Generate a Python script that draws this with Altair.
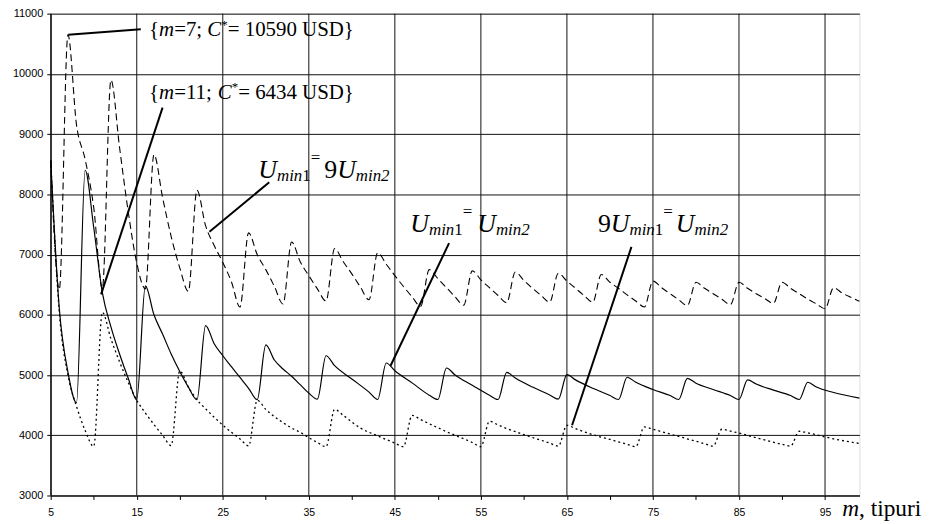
import altair as alt
import pandas as pd

# ---------------- data ----------------
# curve U_min1 = U_min2 (solid)
SOLID_M = [5, 6, 7, 8, 9, 10, 11, 12, 13, 14, 15,
           16, 17, 18, 19, 20, 21, 22,
           23, 24, 25, 26, 27, 28, 29,
           30, 31, 32, 33, 34, 35, 36,
           37, 38, 40, 42, 43,
           44, 45, 47, 49, 50,
           51, 52, 54, 56, 57,
           58, 59, 61, 63, 64,
           65, 66, 68, 70, 71,
           72, 73, 75, 77, 78,
           79, 80, 82, 84, 85,
           86, 87, 89, 91, 92,
           93, 94, 96, 99]
SOLID_V = [8560, 6100, 5050, 4540, 8400, 7450, 6370, 5800, 5350, 4950, 4590,
           6480, 6000, 5680, 5350, 5060, 4800, 4590,
           5820, 5520, 5320, 5140, 4960, 4780, 4590,
           5500, 5250, 5100, 4980, 4840, 4700, 4600,
           5320, 5155, 4935, 4716, 4594,
           5200, 5070, 4870, 4665, 4594,
           5117, 5000, 4830, 4665, 4594,
           5045, 4950, 4800, 4670, 4600,
           5006, 4920, 4780, 4660, 4594,
           4963, 4880, 4760, 4660, 4594,
           4945, 4865, 4760, 4660, 4594,
           4920, 4850, 4750, 4660, 4594,
           4880, 4800, 4710, 4617]

# curve U_min1 = 9 U_min2 (dashed), one value per m = 5..99
DASH_M = list(range(5, 100))
DASH_V = [8560, 6420, 10650, 9150, 8580, 7780, 6430,          # 5-11
          9900, 8780, 7720, 6860, 6430,                       # 12-16
          8660, 7950, 7300, 6780, 6390,                       # 17-21
          8070, 7480, 7150, 6870, 6550, 6130,                 # 22-27
          7360, 7000, 6750, 6470, 6180,                       # 28-32
          7210, 6880, 6650, 6430, 6230,                       # 33-37
          7100, 6880, 6680, 6460, 6250,                       # 38-42
          7030, 6840, 6650, 6470, 6300, 6140,                 # 43-48
          6750, 6600, 6450, 6300, 6160,                       # 49-53
          6730, 6580, 6450, 6320, 6200,                       # 54-58
          6710, 6570, 6440, 6320, 6210,                       # 59-63
          6690, 6560, 6440, 6320, 6210,                       # 64-68
          6670, 6540, 6440, 6330, 6230, 6130,                 # 69-74
          6560, 6450, 6350, 6250, 6155,                       # 75-79
          6540, 6440, 6350, 6260, 6170,                       # 80-84
          6540, 6440, 6350, 6270, 6190,                       # 85-89
          6540, 6440, 6350, 6260, 6180, 6100,                 # 90-95
          6450, 6360, 6290, 6226]                             # 96-99

# curve 9 U_min1 = U_min2 (dotted)
DOT_M = [5, 6, 7, 8, 9, 10,
         11, 12, 13, 14, 15, 16, 17, 18, 19,
         20, 21, 22, 23, 24, 25, 26, 27, 28,
         29, 30, 31, 32, 33, 34, 35, 36, 37,
         38, 39, 41, 43, 45, 46,
         47, 48, 51, 54, 55,
         56, 57, 60, 63, 64,
         65, 66, 68, 70, 72, 73,
         74, 75, 78, 81, 82,
         83, 84, 87, 90, 91,
         92, 93, 96, 99]
DOT_V = [8560, 6040, 5000, 4480, 4080, 3815,
         6040, 5600, 5220, 4880, 4580, 4370, 4180, 4000, 3830,
         5070, 4800, 4590, 4440, 4300, 4170, 4050, 3940, 3825,
         4580, 4430, 4310, 4210, 4120, 4050, 3960, 3880, 3810,
         4430, 4330, 4120, 3990, 3870, 3810,
         4330, 4260, 4060, 3880, 3810,
         4232, 4170, 4010, 3870, 3820,
         4166, 4110, 4010, 3930, 3850, 3810,
         4139, 4100, 3980, 3860, 3820,
         4100, 4070, 3960, 3850, 3820,
         4067, 4040, 3940, 3864]

X_TICKS = list(range(5, 100, 5))
X_GRID = list(range(5, 100, 10))
Y_TICKS = list(range(3000, 11001, 1000))

# annotation leader lines (data units)
LEAD_M1 = [7.03, 10.85, 23.45, 44.5, 65.6]
LEAD_V1 = [10650, 6340, 7380, 5155, 4166]
LEAD_M2 = [15.47, 18.0, 30.4, 51.3, 72.5]
LEAD_V2 = [10741, 9440, 8200, 7190, 7127]

# annotation label anchors (data units: start of text, baseline)
LABEL_M = [16.43, 16.43, 29.13, 46.8, 68.6, 97.0]
LABEL_V = [10621, 9577, 8279, 7372, 7372, 2656]
LABEL_PIECES = [
    [("{", 0, 21, 0, 0), ("m", 1, 21, 0, 0), ("=7; ", 0, 21, 0, 0), ("C", 1, 21, 0, 0),
     ("*", 0, 13, -8, 0), ("= 10590 USD}", 0, 21, 0, 0)],
    [("{", 0, 21, 0, 0), ("m", 1, 21, 0, 0), ("=11; ", 0, 21, 0, 0), ("C", 1, 21, 0, 0),
     ("*", 0, 13, -8, 0), ("= 6434 USD}", 0, 21, 0, 0)],
    [("U", 1, 26, 0, 0), ("min", 1, 17, 3, 0), ("1", 0, 17, 3, 0), ("=", 0, 17, -15, 4),
     ("9", 0, 26, 0, 0), ("U", 1, 26, 0, 0), ("min2", 1, 17, 3, 0)],
    [("U", 1, 26, 0, 0), ("min", 1, 17, 3, 0), ("1", 0, 17, 3, 0), ("=", 0, 17, -15, 5),
     ("U", 1, 26, 0, 0), ("min2", 1, 17, 3, 0)],
    [("9", 0, 26, 0, 0), ("U", 1, 26, 0, 0), ("min", 1, 17, 3, 0), ("1", 0, 17, 3, 0),
     ("=", 0, 17, -15, 3), ("U", 1, 26, 0, 0), ("min2", 1, 17, 3, 0)],
    [("m", 1, 23.5, 0, 0), (", tipuri", 0, 23.5, 0, 0)],
]

# ---------------- layout ----------------
W, H = 814, 485
X_MIN, X_MAX = 5, 99
Y_MIN, Y_MAX = 3000, 11000
PXM = W / (X_MAX - X_MIN)
PXV = H / (Y_MAX - Y_MIN)

REG_W = {' ': 250, '{': 480, '}': 480, '=': 564, ';': 278, ',': 250, '*': 500,
         'C': 667, 'U': 722, 'S': 556, 'D': 722, 'm': 778, 'i': 278, 'n': 500,
         't': 278, 'p': 500, 'u': 500, 'r': 333}
ITA_W = {'m': 722, 'C': 667, 'U': 722, 'i': 278, 'n': 500, '2': 500}


def text_width(s, italic, size):
    tab = ITA_W if italic else REG_W
    return sum(tab.get(c, REG_W.get(c, 500)) for c in s) * size / 1000.0


rows = []
for am, av, pieces in zip(LABEL_M, LABEL_V, LABEL_PIECES):
    cx = 0.0
    for txt, it, size, dy, gap in pieces:
        rows.append({"m": am + cx / PXM, "v": av - dy / PXV, "t": txt, "s": size, "it": it})
        cx += text_width(txt, it, size) + gap
text_df = pd.DataFrame(rows)

solid_df = pd.DataFrame({"m": SOLID_M, "v": SOLID_V})
dash_df = pd.DataFrame({"m": DASH_M, "v": DASH_V})
dot_df = pd.DataFrame({"m": DOT_M, "v": DOT_V})
lead_df = pd.DataFrame({"m": LEAD_M1, "v": LEAD_V1, "m2": LEAD_M2, "v2": LEAD_V2})
grid_df = pd.DataFrame({"m": X_GRID})

x_scale = alt.Scale(domain=[X_MIN, X_MAX], nice=False, zero=False)
y_scale = alt.Scale(domain=[Y_MIN, Y_MAX], nice=False, zero=False)

x_axis = alt.Axis(values=X_TICKS, labelExpr="datum.value % 10 == 5 ? datum.label : ''",
                  grid=False, tickSize=4, tickColor="black", domainColor="black",
                  labelFont="Liberation Sans", labelFontSize=10.5, labelColor="black",
                  labelPadding=8, labelFlush=False, labelOverlap=False, title=None)
y_axis = alt.Axis(values=Y_TICKS, grid=True, gridColor="#111111", gridWidth=1,
                  tickSize=4, tickColor="black", domainColor="black", format="d",
                  labelFont="Liberation Sans", labelFontSize=11, labelColor="black",
                  labelPadding=4, title=None)

X = alt.X("m:Q", scale=x_scale, axis=x_axis)
Y = alt.Y("v:Q", scale=y_scale, axis=y_axis)

grid = alt.Chart(grid_df).mark_rule(color="#111111", strokeWidth=1).encode(x=X)

solid = alt.Chart(solid_df).mark_line(interpolate="monotone", color="black",
                                      strokeWidth=1.2).encode(x=X, y=Y)
dashed = alt.Chart(dash_df).mark_line(interpolate="monotone", color="black",
                                      strokeWidth=1.1, strokeDash=[7, 4]).encode(x=X, y=Y)
dotted = alt.Chart(dot_df).mark_line(interpolate="monotone", color="black",
                                     strokeWidth=1.3, strokeDash=[2, 3]).encode(x=X, y=Y)

leads = alt.Chart(lead_df).mark_rule(color="black", strokeWidth=2).encode(
    x=X, y=Y, x2="m2:Q", y2="v2:Q")

text_reg = alt.Chart(text_df[text_df.it == 0]).mark_text(
    align="left", baseline="alphabetic", font="Liberation Serif", color="black"
).encode(x=X, y=Y, text="t:N", size=alt.Size("s:Q", scale=None, legend=None))
text_it = alt.Chart(text_df[text_df.it == 1]).mark_text(
    align="left", baseline="alphabetic", font="Liberation Serif", color="black",
    fontStyle="italic"
).encode(x=X, y=Y, text="t:N", size=alt.Size("s:Q", scale=None, legend=None))

chart = alt.layer(grid, dashed, solid, dotted, leads, text_reg, text_it).properties(
    width=W, height=H,
    padding={"left": 43, "top": 4, "right": 66, "bottom": 28},
    autosize=alt.AutoSizeParams(type="none"),
).configure_view(stroke="#808080", strokeWidth=1).configure(background="white")

chart.save("out.html", embed_options={"renderer": "svg", "actions": False})
